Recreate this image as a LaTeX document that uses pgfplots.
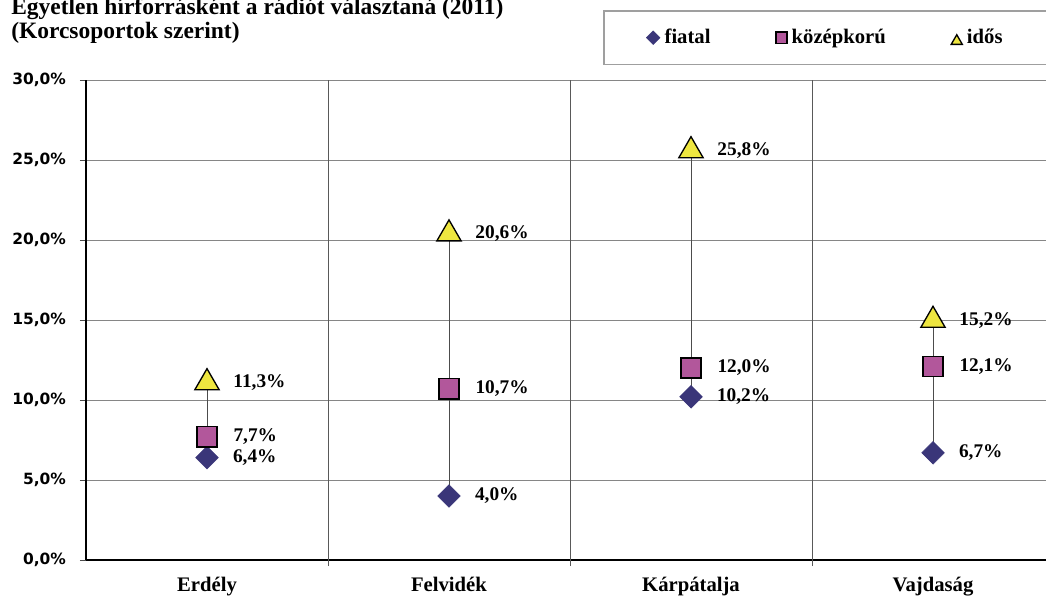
\documentclass[border=0pt]{standalone}
\usepackage{pgfplots}
\pgfplotsset{compat=1.18}
\usepackage{pgfplotstable}
\usepackage{fontspec}
\setmainfont{Liberation Serif}
\newfontfamily\tickfont{DejaVu Sans}
\definecolor{cfia}{RGB}{58,54,121}
\definecolor{ckoz}{RGB}{178,87,155}
\definecolor{cido}{RGB}{238,230,64}
\definecolor{gridg}{RGB}{134,134,134}
\pgfplotsset{
  legfia/.style={legend image code/.code={\draw[##1, mark size=3.6pt, line width=0.3pt] plot coordinates {(0pt,0pt)};}},
  legkoz/.style={legend image code/.code={\draw[##1, mark size=4.2pt, line width=0.8pt] plot coordinates {(0pt,0pt)};}},
  legido/.style={legend image code/.code={\draw[##1, mark size=4.8pt, line width=0.8pt] plot coordinates {(0pt,0pt)};}},
  lbl/.style={
    nodes near coords={\pgfmathprintnumber[fixed,fixed zerofill,precision=1,use comma,assume math mode=true]{\pgfplotspointmeta}\%},
    nodes near coords style={anchor=west, xshift=16pt, text=black, font=\fontsize{14.5}{16}\selectfont\bfseries}},
}
\pgfplotstableread{
x fiatal kozep idos
0 6.4 7.7 11.3
1 4.0 10.7 20.6
2 10.2 12.0 25.8
3 6.7 12.1 15.2
}\data
\begin{document}
\begin{tikzpicture}
\useasboundingbox (0pt,0pt) rectangle (784.5pt,-447.75pt);
\begin{scope}
\clip (0pt,0pt) rectangle (784.5pt,-447.75pt);
\node[anchor=base west, inner sep=0, font=\fontsize{17.6}{20}\selectfont\bfseries] at (8.25pt,-10.8pt) {Egyetlen hírforrásként a rádiót választaná (2011)};
\node[anchor=base west, inner sep=0, font=\fontsize{17.6}{20}\selectfont\bfseries] at (8.25pt,-28.5pt) {(Korcsoportok szerint)};
\begin{axis}[
  at={(64.5pt,-420pt)}, anchor=south west,
  scale only axis, width=726pt, height=360pt,
  xmin=-0.5, xmax=3.5, ymin=0, ymax=30,
  axis x line*=bottom, axis y line*=left,
  axis line style={black, line width=0.9pt, -},
  xtick={0,1,2,3},
  xticklabels={Erdély,Felvidék,Kárpátalja,Vajdaság},
  xtick style={draw=none},
  x tick label style={font=\fontsize{15.5}{17}\selectfont\bfseries, yshift=-5pt},
  extra x ticks={0.5,1.5,2.5},
  extra x tick labels={},
  extra x tick style={grid=major, major grid style={black!65, line width=0.6pt}, xtick style={draw=black!65, line width=0.6pt}, major tick length=4.5pt},
  ytick={0,5,...,30},
  ymajorgrids,
  major grid style={gridg, line width=0.6pt},
  tick align=outside,
  major tick length=4.5pt,
  ytick style={draw=black!70, line width=0.6pt},
  yticklabel={\pgfmathprintnumber[fixed,fixed zerofill,precision=1,use comma,assume math mode=true]{\tick}\%},
  y tick label style={font=\tickfont\bfseries\fontsize{11.6}{13}\selectfont, xshift=-7pt},
  clip=false,
  legend style={at={(0.534,1.146)}, anchor=north west, draw=gray!75, line width=1.2pt,
    font=\fontsize{15.5}{17}\selectfont\bfseries, inner xsep=32pt, inner ysep=12pt,
    /tikz/every odd column/.append style={column sep=1.5pt},
    /tikz/every even column/.append style={column sep=47pt},
    /tikz/column 6/.append style={column sep=0pt}},
  legend columns=3,
  legend cell align=left,
]
\addplot[black!70, line width=0.75pt, forget plot] coordinates {(0,6.4) (0,11.3)};
\addplot[black!70, line width=0.75pt, forget plot] coordinates {(1,4.0) (1,20.6)};
\addplot[black!70, line width=0.75pt, forget plot] coordinates {(2,10.2) (2,25.8)};
\addplot[black!70, line width=0.75pt, forget plot] coordinates {(3,6.7) (3,15.2)};

\addplot[only marks, mark=square*, mark size=6pt,
  mark options={rotate=45, fill=cfia, draw=cfia, line width=0.4pt}, lbl, legfia
] table[x=x, y=fiatal] {\data};
\addlegendentry{fiatal}

\addplot[only marks, mark=square*, mark size=7.6pt,
  mark options={fill=ckoz, draw=black, line width=1.1pt}, lbl, legkoz
] table[x=x, y=kozep] {\data};
\addlegendentry{középkorú}

\addplot[only marks, mark=triangle*, mark size=10.5pt,
  mark options={fill=cido, draw=black, line width=1pt, yshift=-2.6pt}, lbl, legido
] table[x=x, y=idos] {\data};
\addlegendentry{idős}
\end{axis}
\end{scope}
\end{tikzpicture}
\end{document}
